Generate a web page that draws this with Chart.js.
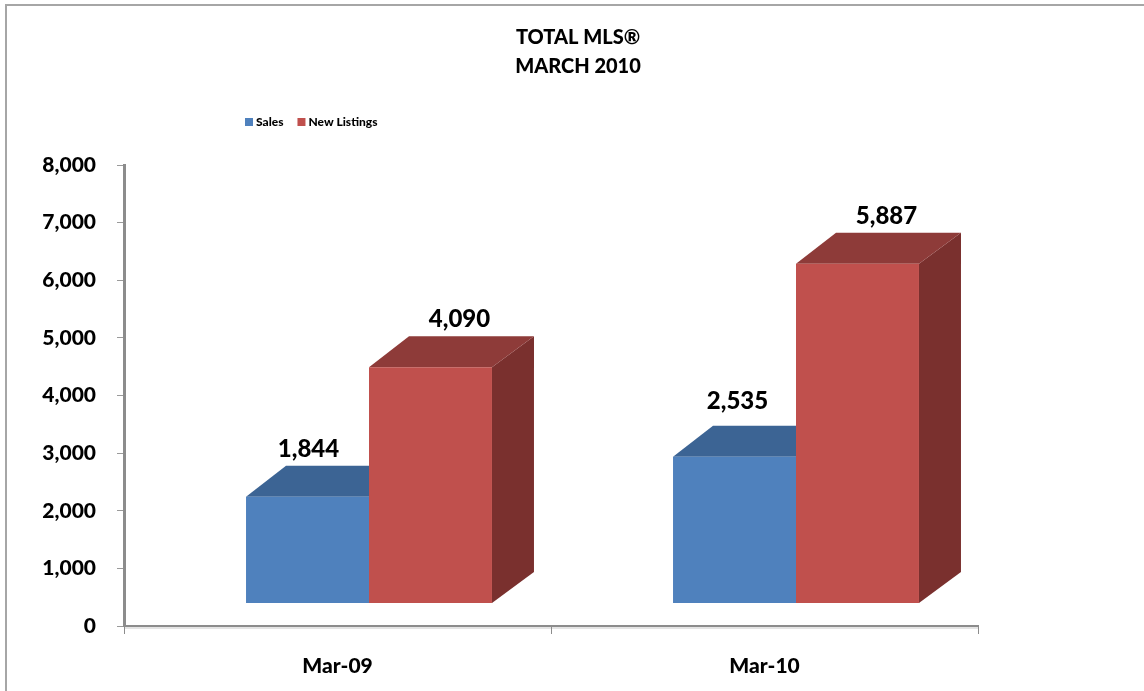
<!DOCTYPE html>
<html>
<head>
<meta charset="utf-8">
<title>Total MLS March 2010</title>
<script src="https://cdn.jsdelivr.net/npm/chart.js@4"></script>
<style>
  html, body { margin: 0; padding: 0; background: #fff; overflow: hidden; }
  canvas { display: block; }
</style>
</head>
<body>
<canvas id="chart" width="1144" height="691"></canvas>
<script>
const categories = ['Mar-09', 'Mar-10'];
const salesValues = [1844, 2535];
const listingValues = [4090, 5887];
const titleLines = ['TOTAL MLS®', 'MARCH 2010'];

// the 3d bars float above the axis floor, lift is in axis units
const barLift = 400;
const depthX = 42;
const depthY = -31;
const shiftX = 31.5;
const fontName = 'Lato, "Open Sans", sans-serif';

const faceColors = [
    { top: '#3c6494', side: '#335680' },
    { top: '#8e3b39', side: '#7a302e' }
];
// label offset from the front top edge of each bar: dataset, then category
const labelOffsets = [
    [[1, -47], [3, -56]],
    [[29, -48], [29, -47]]
];

function floatBars(values) {
    return values.map(v => [barLift, barLift + v]);
}

function fillPoly(ctx, points, color) {
    ctx.fillStyle = color;
    ctx.beginPath();
    points.forEach((p, i) => i ? ctx.lineTo(p[0], p[1]) : ctx.moveTo(p[0], p[1]));
    ctx.closePath();
    ctx.fill();
}

const bars3d = {
    id: 'bars3d',
    afterLayout(chart) {
        // title and legend sit at fixed spots, not the default centred ones
        chart.titleBlock.left = 12;
        chart.titleBlock.right = 1144;
        chart.legend.left = 231;
        chart.legend.right = 1144;
        chart.legend.top = 99;
    },
    beforeDraw(chart) {
        const ctx = chart.ctx;
        const { x, y } = chart.scales;
        // outer frame, only top and left show
        ctx.save();
        ctx.strokeStyle = '#a6a6a6';
        ctx.lineWidth = 2;
        ctx.beginPath();
        ctx.moveTo(6, 691);
        ctx.lineTo(6, 5);
        ctx.lineTo(1144, 5);
        ctx.stroke();
        // soft shadow below the floor
        ctx.strokeStyle = '#e4e4e4';
        ctx.lineWidth = 2;
        ctx.beginPath();
        ctx.moveTo(x.left, y.bottom + 2);
        ctx.lineTo(x.right, y.bottom + 2);
        ctx.stroke();
        ctx.restore();
    },
    beforeDatasetsDraw(chart) {
        const ctx = chart.ctx;
        ctx.save();
        ctx.translate(shiftX, 0);
        // all side and top faces go first so the front faces cover them
        [0, 1].forEach(d => {
            const colors = faceColors[d];
            chart.getDatasetMeta(d).data.forEach(bar => {
                const left = bar.x - bar.width / 2;
                const right = bar.x + bar.width / 2;
                fillPoly(ctx, [[right, bar.y], [right + depthX, bar.y + depthY], [right + depthX, bar.base + depthY], [right, bar.base]], colors.side);
                fillPoly(ctx, [[left, bar.y], [left + depthX - 2, bar.y + depthY], [right + depthX, bar.y + depthY], [right, bar.y]], colors.top);
            });
        });
    },
    afterDatasetsDraw(chart) {
        const ctx = chart.ctx;
        ctx.fillStyle = '#000';
        ctx.font = '900 24px ' + fontName;
        ctx.textAlign = 'center';
        ctx.textBaseline = 'middle';
        [salesValues, listingValues].forEach((values, d) => {
            chart.getDatasetMeta(d).data.forEach((bar, i) => {
                const off = labelOffsets[d][i];
                ctx.fillText(values[i].toLocaleString('en-US'), bar.x + off[0], bar.y + off[1]);
            });
        });
        ctx.restore();
    }
};

new Chart(document.getElementById('chart'), {
    type: 'bar',
    data: {
        labels: categories,
        datasets: [
            { label: 'Sales', data: floatBars(salesValues), backgroundColor: '#4f81bd', borderWidth: 0, clip: false },
            { label: 'New Listings', data: floatBars(listingValues), backgroundColor: '#c0504d', borderWidth: 0, clip: false }
        ]
    },
    options: {
        responsive: false,
        animation: false,
        categoryPercentage: 0.576,
        barPercentage: 1,
        layout: { padding: { left: 0, right: 166, top: 0, bottom: 0 } },
        plugins: {
            tooltip: { enabled: false },
            title: {
                display: true,
                text: titleLines,
                color: '#000',
                font: { family: fontName, size: 20, weight: '900', lineHeight: 1.45 },
                padding: { top: 23, bottom: 45 }
            },
            legend: {
                display: true,
                position: 'top',
                align: 'start',
                onClick: null,
                labels: {
                    color: '#000',
                    font: { family: fontName, size: 12, weight: '900' },
                    usePointStyle: true,
                    pointStyle: 'rect',
                    boxWidth: 2,
                    boxHeight: 8,
                    padding: 17
                }
            }
        },
        scales: {
            x: {
                afterFit(scale) { scale.height = 65; },
                border: { color: '#8c8c8c', width: 2 },
                grid: { drawOnChartArea: false, color: '#8c8c8c', tickLength: 8, tickWidth: 1 },
                ticks: { color: '#000', padding: 20, font: { family: fontName, size: 21, weight: '900' } }
            },
            y: {
                min: 0,
                max: 8000,
                afterFit(scale) { scale.width = 124; },
                border: { color: '#8c8c8c', width: 3 },
                grid: { drawOnChartArea: false, color: '#9a9a9a', tickLength: 7, tickWidth: 1 },
                ticks: {
                    stepSize: 1000,
                    color: '#000',
                    padding: 21,
                    font: { family: fontName, size: 21, weight: '900' },
                    callback: v => v.toLocaleString('en-US')
                }
            }
        }
    },
    plugins: [bars3d]
});
</script>
</body>
</html>
